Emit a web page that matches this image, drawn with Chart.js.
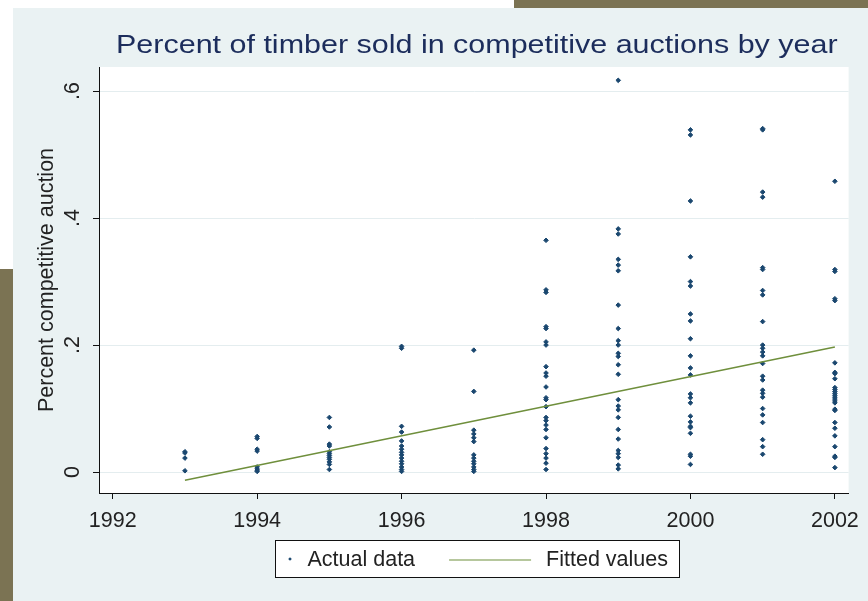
<!DOCTYPE html>
<html>
<head>
<meta charset="utf-8">
<script src="https://cdn.jsdelivr.net/npm/chart.js@4.4.0/dist/chart.umd.min.js"></script>
<style>
  html, body { margin: 0; padding: 0; background: #fff; overflow: hidden; }
  #stage { position: relative; width: 868px; height: 601px; }
  .olive { position: absolute; background: #7b7353; }
  #panel { position: absolute; left: 13px; top: 8px; width: 855px; height: 593px; background: #eaf2f3; }
  #timberChart { position: absolute; left: 0; top: 0; }
</style>
</head>
<body>
<div id="stage">
  <div class="olive" style="left:514px;top:0;width:354px;height:8px"></div>
  <div class="olive" style="left:0;top:269px;width:13px;height:332px"></div>
  <div id="panel"></div>
  <canvas id="timberChart" width="868" height="601"></canvas>
</div>
<script>
// tick labels
const xTickYears = [1992, 1994, 1996, 1998, 2000, 2002];
const yTickValues = [0, 0.2, 0.4, 0.6];
const yTickText = ['0', '.2', '.4', '.6'];

// share of timber sold at competitive auction, one array per year
const years = [1993, 1994, 1995, 1996, 1997, 1998, 1999, 2000, 2001, 2002];
const pct1993 = [0.032, 0.030, 0.022, 0.002];
const pct1994 = [0.056, 0.053, 0.036, 0.033, 0.008, 0.005, 0.003, 0.001];
const pct1995 = [0.086, 0.071, 0.044, 0.041, 0.032, 0.029, 0.026, 0.023, 0.020, 0.016, 0.012, 0.004];
const pct1996 = [0.198, 0.195, 0.072, 0.063, 0.049, 0.041, 0.036, 0.031, 0.027, 0.022, 0.017, 0.013, 0.008, 0.004, 0.001];
const pct1997 = [0.192, 0.127, 0.066, 0.060, 0.054, 0.048, 0.027, 0.022, 0.017, 0.013, 0.008, 0.004, 0.001];
const pct1998 = [0.365, 0.287, 0.283, 0.229, 0.226, 0.205, 0.200, 0.166, 0.156, 0.151, 0.134, 0.117, 0.114, 0.103, 0.086, 0.081, 0.074, 0.067, 0.054, 0.037, 0.029, 0.022, 0.014, 0.004];
const pct1999 = [0.617, 0.383, 0.375, 0.335, 0.326, 0.317, 0.263, 0.226, 0.207, 0.200, 0.187, 0.182, 0.169, 0.154, 0.114, 0.104, 0.098, 0.086, 0.067, 0.052, 0.034, 0.029, 0.023, 0.011, 0.005];
const pct2000 = [0.539, 0.531, 0.427, 0.339, 0.300, 0.293, 0.249, 0.238, 0.210, 0.183, 0.164, 0.153, 0.123, 0.117, 0.109, 0.088, 0.079, 0.072, 0.070, 0.061, 0.028, 0.025, 0.012];
const pct2001 = [0.541, 0.539, 0.441, 0.433, 0.322, 0.319, 0.286, 0.279, 0.237, 0.200, 0.195, 0.189, 0.183, 0.171, 0.151, 0.145, 0.129, 0.124, 0.118, 0.100, 0.090, 0.078, 0.051, 0.040, 0.028];
const pct2002 = [0.458, 0.319, 0.316, 0.273, 0.270, 0.172, 0.157, 0.155, 0.147, 0.133, 0.130, 0.127, 0.124, 0.121, 0.118, 0.115, 0.112, 0.109, 0.099, 0.097, 0.078, 0.069, 0.057, 0.040, 0.025, 0.023, 0.007];
const pctByYear = [pct1993, pct1994, pct1995, pct1996, pct1997, pct1998, pct1999, pct2000, pct2001, pct2002];

// linear fit, end points
const fitYears = [1993, 2002];
const fitValues = [-0.013, 0.197];

const fontFamily = '"Liberation Sans", Arial, Helvetica, sans-serif';
Chart.defaults.font.family = fontFamily;

const actualPoints = years.flatMap((yr, i) => pctByYear[i].map(v => ({ x: yr, y: v })));
const fittedPoints = fitYears.map((yr, i) => ({ x: yr, y: fitValues[i] }));

// white plot region
const plotBackground = {
  id: 'plotBackground',
  beforeDraw(chart) {
    const { ctx, chartArea: a } = chart;
    ctx.save();
    ctx.fillStyle = '#ffffff';
    ctx.fillRect(a.left, a.top, a.right - a.left, a.bottom - a.top);
    ctx.restore();
  }
};

// title centred over the plot + boxed legend under the axis
const titleAndLegend = {
  id: 'titleAndLegend',
  afterDraw(chart) {
    const { ctx, chartArea: a } = chart;
    const cx = (a.left + a.right) / 2;

    ctx.save();
    ctx.font = '25.5px ' + fontFamily;
    ctx.fillStyle = '#1c2d5c';
    ctx.textAlign = 'center';
    ctx.textBaseline = 'alphabetic';
    ctx.translate(cx + 3, 53);
    ctx.scale(1.195, 1);
    ctx.fillText('Percent of timber sold in competitive auctions by year', 0, 0);
    ctx.restore();

    const pts = chart.data.datasets.find(d => d.type === 'scatter');
    const fit = chart.data.datasets.find(d => d.type === 'line');
    ctx.save();
    ctx.font = '21.5px ' + fontFamily;
    const pad = 12, gap = 15, itemGap = 34, markW = 5, lineW = 82;
    const w1 = ctx.measureText(pts.label).width;
    const w2 = ctx.measureText(fit.label).width;
    const boxW = Math.round(pad + markW + gap + w1 + itemGap + lineW + gap + w2 + pad);
    const left = Math.round(cx - boxW / 2) + 3.5;
    const top = 540.5, h = 37;
    ctx.fillStyle = '#ffffff';
    ctx.fillRect(left, top, boxW, h);
    ctx.strokeStyle = '#111';
    ctx.lineWidth = 1;
    ctx.strokeRect(left, top, boxW, h);

    const midY = top + h / 2;
    let x = left + pad;
    const mx = x + markW / 2, r = 1.8;
    ctx.fillStyle = pts.backgroundColor;
    ctx.beginPath();
    ctx.moveTo(mx, midY - r);
    ctx.lineTo(mx + r, midY);
    ctx.lineTo(mx, midY + r);
    ctx.lineTo(mx - r, midY);
    ctx.closePath();
    ctx.fill();
    x += markW + gap;

    ctx.fillStyle = '#222';
    ctx.textBaseline = 'middle';
    ctx.fillText(pts.label, x, midY + 1);
    x += w1 + itemGap;

    ctx.strokeStyle = fit.borderColor;
    ctx.lineWidth = 1.2;
    ctx.beginPath();
    ctx.moveTo(x, midY + 1);
    ctx.lineTo(x + lineW, midY + 1);
    ctx.stroke();
    x += lineW + gap;

    ctx.fillText(fit.label, x, midY + 1);
    ctx.restore();
  }
};

const tickFont = { size: 21.5, family: fontFamily };

new Chart(document.getElementById('timberChart'), {
  data: {
    datasets: [
      {
        type: 'line',
        label: 'Fitted values',
        data: fittedPoints,
        borderColor: '#6f8f3c',
        borderWidth: 1.5,
        pointRadius: 0,
        fill: false,
        tension: 0,
        order: 0
      },
      {
        type: 'scatter',
        label: 'Actual data',
        data: actualPoints,
        pointStyle: 'rectRot',
        pointRadius: 2.3,
        backgroundColor: '#1a476f',
        borderColor: '#1a476f',
        borderWidth: 1,
        order: 1
      }
    ]
  },
  options: {
    responsive: false,
    animation: false,
    events: [],
    layout: { padding: { left: 13, top: 67, right: 11, bottom: 63 } },
    plugins: {
      legend: { display: false },
      title: { display: false },
      tooltip: { enabled: false }
    },
    scales: {
      x: {
        type: 'linear',
        min: 1991.81,
        max: 2002.19,
        afterBuildTicks: s => { s.ticks = xTickYears.map(v => ({ value: v })); },
        afterFit: s => { s.height = 45; },
        border: { color: '#111', width: 1 },
        grid: { drawOnChartArea: false, tickLength: 6, tickColor: '#111' },
        ticks: {
          color: '#222',
          font: tickFont,
          padding: 9,
          maxRotation: 0,
          callback: v => String(v)
        }
      },
      y: {
        type: 'linear',
        min: -0.033,
        max: 0.638,
        afterBuildTicks: s => { s.ticks = yTickValues.map(v => ({ value: v })); },
        afterFit: s => { s.width = 86; },
        border: { color: '#111', width: 1 },
        grid: { color: '#e4edef', lineWidth: 1, tickLength: 6, tickColor: '#111' },
        ticks: {
          color: '#222',
          font: tickFont,
          minRotation: 90,
          maxRotation: 90,
          crossAlign: 'center',
          padding: 11,
          callback: (v, i) => yTickText[i]
        },
        title: {
          display: true,
          text: 'Percent competitive auction',
          color: '#222',
          font: tickFont,
          padding: { top: 21, bottom: 0 }
        }
      }
    }
  },
  plugins: [plotBackground, titleAndLegend]
});
</script>
</body>
</html>
